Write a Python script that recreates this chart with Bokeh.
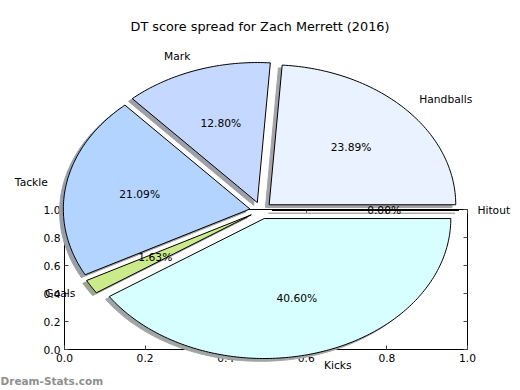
import numpy as np
from bokeh.plotting import figure
from bokeh.models import Label, Range1d, LinearAxis, FixedTicker, ColumnDataSource
from bokeh.embed import file_html
from bokeh.resources import INLINE

# ---------------- data ----------------
title_text = "DT score spread for Zach Merrett (2016)"
categories = ["Handballs", "Mark", "Tackle", "Goals", "Kicks", "Hitout"]
shares = [23.89, 12.80, 21.09, 1.63, 40.60, 0.00]
wedge_colors = ["#eaf2ff", "#c5d8ff", "#b3d4ff", "#cbea8a", "#d8ffff", "#ffffff"]
axis_ticks = [0.0, 0.2, 0.4, 0.6, 0.8, 1.0]
axis_tick_labels = ["0.0", "0.2", "0.4", "0.6", "0.8", "1.0"]
watermark_text = "Dream-Stats.com"

# ---------------- layout ----------------
W, H = 520, 390
AX_L, AX_R, AX_T, AX_B = 64, 467, 209, 349          # axes box in pixels
SX = AX_R - AX_L                                     # px per data unit (x)
SY = AX_B - AX_T                                     # px per data unit (y)
CX, CY = 0.4875, 0.993                               # pie centre (data)
RX, RY = 0.463, 1.0                                  # pie radii (data)
EXPLODE = 0.06
LABEL_DIST = 1.1
PCT_DIST = 0.6
SH_DX, SH_DY = -0.02, -0.02
FONT = "DejaVu Sans"
LBL_SIZE = "10.7px"

p = figure(width=W, height=H,
           x_range=Range1d(-AX_L / SX, (W - AX_L) / SX),
           y_range=Range1d(-(H - AX_B) / SY, AX_B / SY),
           output_backend="svg", toolbar_location=None,
           x_axis_location=None, y_axis_location=None, min_border=0)
p.grid.visible = False
p.outline_line_color = None
p.background_fill_color = "white"
p.border_fill_color = "white"

# axes frame (drawn beneath the pie)
p.quad(left=axis_ticks[0], right=axis_ticks[-1], bottom=axis_ticks[0], top=axis_ticks[-1],
       fill_color=None, line_color="black", line_width=1)


def make_axis(show_labels, loc):
    return LinearAxis(
        fixed_location=loc,
        ticker=FixedTicker(ticks=axis_ticks),
        major_label_overrides={t: s for t, s in zip(axis_ticks, axis_tick_labels)},
        major_tick_in=4, major_tick_out=0, minor_tick_in=0, minor_tick_out=0,
        axis_line_color=None, major_tick_line_color="#444444",
        major_label_standoff=4, major_label_text_font=FONT,
        major_label_text_font_size=LBL_SIZE,
        major_label_text_color="black" if show_labels else None,
    )


p.add_layout(make_axis(True, axis_ticks[0]), "left")
p.add_layout(make_axis(True, axis_ticks[0]), "below")
p.add_layout(make_axis(False, axis_ticks[-1]), "right")
p.add_layout(make_axis(False, axis_ticks[-1]), "above")


def shade(hexcol):
    r, g, b = (int(hexcol[i:i + 2], 16) / 255 for i in (1, 3, 5))
    return "#%02x%02x%02x" % tuple(int(round((0.5 + 0.15 * c) * 255)) for c in (r, g, b))


total = float(sum(shares))
theta = 0.0
wx, wy, sx, sy, mids, centres = [], [], [], [], [], []
for s in shares:
    t1 = theta
    t2 = theta + 360.0 * s / total
    theta = t2
    mid = np.deg2rad((t1 + t2) / 2.0)
    cx = CX + EXPLODE * RX * np.cos(mid)
    cy = CY + EXPLODE * RY * np.sin(mid)
    ts = np.deg2rad(np.linspace(t1, t2, max(2, int(abs(t2 - t1)) + 2)))
    xs = [cx] + list(cx + RX * np.cos(ts))
    ys = [cy] + list(cy + RY * np.sin(ts))
    wx.append(xs)
    wy.append(ys)
    sx.append([x + SH_DX * RX for x in xs])
    sy.append([y + SH_DY * RY for y in ys])
    mids.append(mid)
    centres.append((cx, cy))

shadow_src = ColumnDataSource(dict(xs=sx, ys=sy, color=[shade(c) for c in wedge_colors]))
wedge_src = ColumnDataSource(dict(xs=wx, ys=wy, color=wedge_colors, cat=categories))

# pie sits above the axes (frame, ticks and tick labels)
p.patches("xs", "ys", source=shadow_src, fill_color="color", line_color="color",
          line_width=1, level="annotation")
p.patches("xs", "ys", source=wedge_src, fill_color="color", line_color="black",
          line_width=1, level="annotation")

for cat, s, mid, (cx, cy) in zip(categories, shares, mids, centres):
    c, sn = np.cos(mid), np.sin(mid)
    p.add_layout(Label(x=cx + LABEL_DIST * RX * c, y=cy + LABEL_DIST * RY * sn, text=cat,
                       text_align="left" if c > 0 else "right", text_baseline="middle",
                       text_font=FONT, text_font_size=LBL_SIZE, text_color="black"))
    p.add_layout(Label(x=cx + PCT_DIST * RX * c, y=cy + PCT_DIST * RY * sn, text="%.2f%%" % s,
                       text_align="center", text_baseline="middle",
                       text_font=FONT, text_font_size=LBL_SIZE, text_color="black"))

p.add_layout(Label(x=(259.5 - AX_L) / SX, y=(AX_B - 25.5) / SY, text=title_text,
                   text_align="center", text_baseline="middle",
                   text_font=FONT, text_font_size="12.8px", text_color="black"))
p.add_layout(Label(x=-AX_L / SX, y=(AX_B - 380) / SY, text=watermark_text,
                   text_align="left", text_baseline="middle",
                   text_font=FONT, text_font_size="10.5px", text_font_style="bold",
                   text_color="#8f8f8f"))

open("out.html", "w").write(file_html(p, INLINE))
